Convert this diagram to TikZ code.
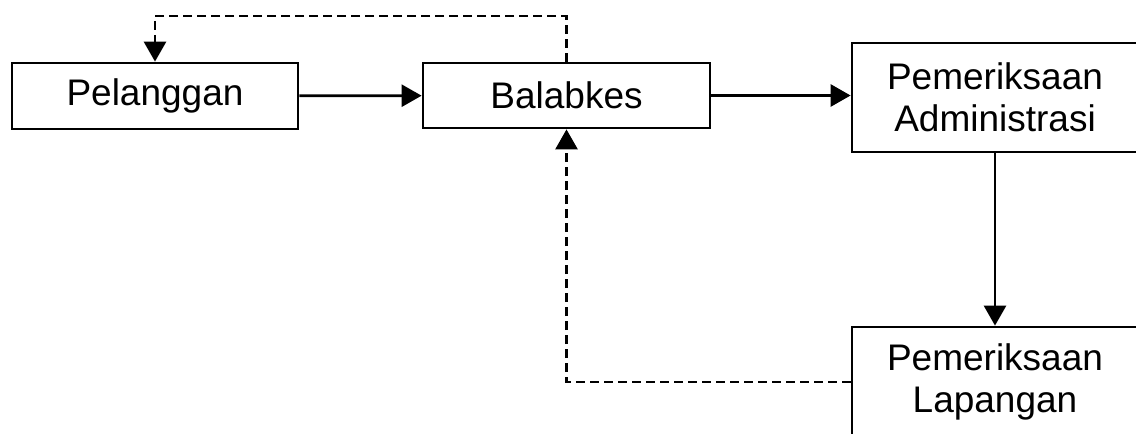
\documentclass[tikz,border=0pt]{standalone}
\usepackage{fontspec}
\setmainfont{Liberation Sans}
\usetikzlibrary{arrows.meta}
\begin{document}
\begin{tikzpicture}[x=1pt,y=-1pt,
  box/.style={draw=black, line width=2.8pt, inner sep=0pt, align=center,
    font=\fontsize{37}{42}\selectfont, minimum width=286pt},
  flow/.style={line width=2.8pt, -{Triangle[length=20pt,width=22pt]}},
  backflow/.style={flow, dash pattern=on 9pt off 5pt}]
\useasboundingbox (0,0) rectangle (1136,434);
\clip (0,0) rectangle (1136,434);
\node[box, minimum height=66pt] (pel) at (155,96) {Pelanggan};
\node[box, minimum width=287pt, minimum height=65pt] (bal) at (566.5,95.5) {Balabkes};
\node[box, minimum height=109pt] (adm) at (995,97.5) {Pemeriksaan\\Administrasi};
\node[box, minimum height=110pt] (lap) at (995,382) {Pemeriksaan\\Lapangan};
\draw[flow] (pel) -- (bal);
\draw[flow] (bal) -- (bal -| adm.west);
\draw[flow] (adm) -- (lap);
\coordinate (top) at (566.5,16);
\draw[backflow] (bal.north) -- (top) -| (pel.north);
\draw[backflow] (lap.west) -| (bal.south);
\end{tikzpicture}
\end{document}
